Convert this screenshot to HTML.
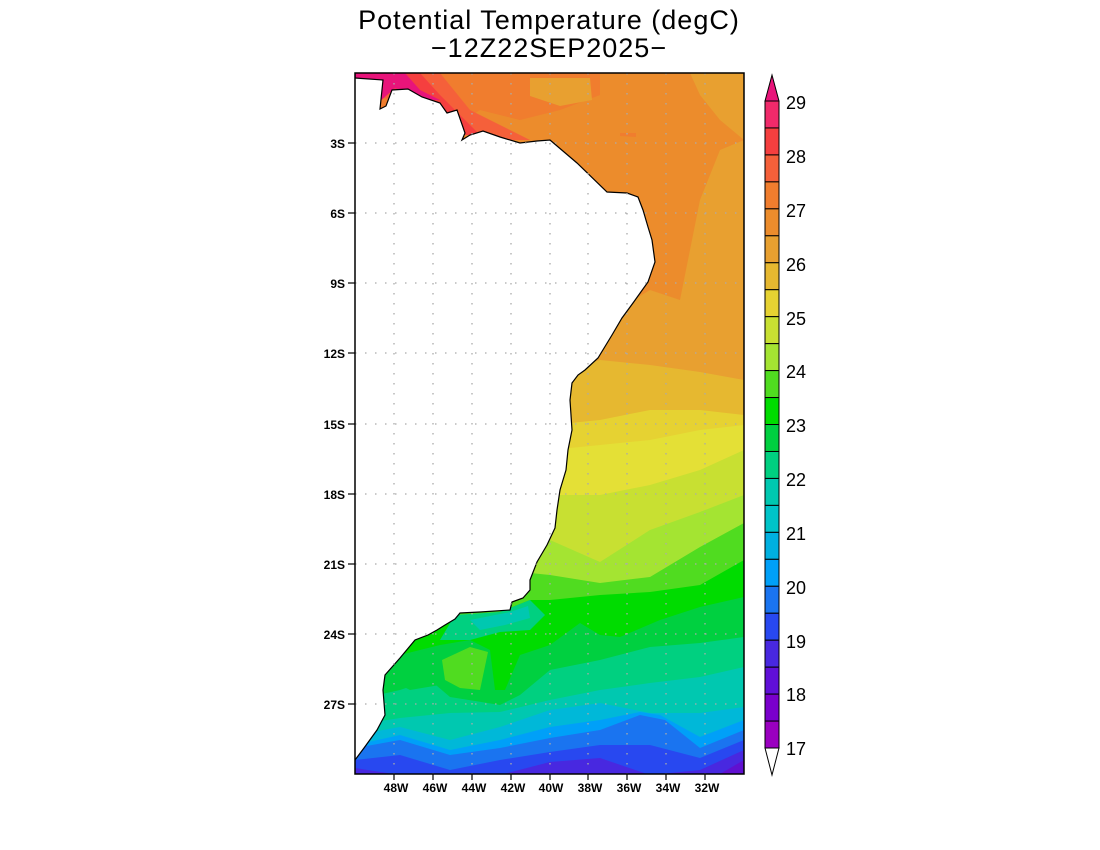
<!DOCTYPE html>
<html><head><meta charset="utf-8"><style>
html,body{margin:0;padding:0;background:#fff;}
svg{display:block;}
text{font-family:"Liberation Sans",sans-serif;}
</style></head><body>
<svg width="1100" height="850" viewBox="0 0 1100 850" xmlns="http://www.w3.org/2000/svg">
<defs><clipPath id="c"><rect x="355" y="73" width="389" height="701"/></clipPath></defs>
<text x="549" y="29" text-anchor="middle" font-size="27" fill="#000" letter-spacing="1">Potential Temperature (degC)</text>
<text x="549" y="57" text-anchor="middle" font-size="27" fill="#000" letter-spacing="1">−12Z22SEP2025−</text>
<g clip-path="url(#c)">
<rect x="355" y="73" width="389" height="701" fill="#ec8c2c"/>
<polygon points="355,73 600,73 600,95 560,110 520,120 480,110 450,130 400,130 355,130" fill="#f07d2e"/>
<polygon points="530,78 590,78 592,100 560,106 530,96" fill="#e8a030"/>
<polygon points="690,73 744,73 744,140 720,120 700,95" fill="#e8a030"/>
<polygon points="355,73 440,73 470,110 500,125 530,140 480,140 440,120 400,100 355,95" fill="#f5603a"/>
<polygon points="355,73 420,73 440,95 465,120 480,135 460,135 420,105 390,90 355,90" fill="#f53f3f"/>
<polygon points="355,73 405,73 420,90 440,100 420,100 395,88 370,110 365,125 362,100 355,95" fill="#e8147a"/>
<polygon points="620,133 636,133 636,137 620,136" fill="#f07d2e"/>
<polygon points="355,400 400,400 450,400 500,380 550,350 600,320 650,290 680,300 700,200 720,150 744,140 744,774 355,774" fill="#e8a030"/>
<polygon points="355,410 400,410 450,410 500,400 550,375 600,360 650,365 700,372 744,380 744,774 355,774" fill="#e6b830"/>
<polygon points="355,430 400,430 450,430 500,430 550,425 600,420 650,410 700,410 744,415 744,774 355,774" fill="#e6d232"/>
<polygon points="355,450 400,450 450,450 500,450 550,450 600,445 650,440 700,430 744,425 744,774 355,774" fill="#e4e036"/>
<polygon points="355,500 400,500 450,500 500,500 550,495 600,495 650,485 700,470 744,450 744,774 355,774" fill="#c8e032"/>
<polygon points="355,540 400,540 450,540 500,540 550,540 600,562 650,530 700,512 744,495 744,774 355,774" fill="#a4e432"/>
<polygon points="355,570 400,570 450,570 500,570 550,575 600,583 650,577 700,547 744,523 744,774 355,774" fill="#50dc20"/>
<polygon points="355,620 400,620 450,620 500,612 530,600 550,600 600,595 650,592 700,585 744,560 744,774 355,774" fill="#00dc00"/>
<polygon points="355,665 400,655 440,645 470,640 490,650 495,690 505,690 520,655 550,645 580,623 600,635 620,637 660,620 700,607 744,597 744,774 355,774" fill="#00d040"/>
<polygon points="355,700 400,690 430,680 450,697 500,705 520,695 550,670 600,660 650,647 700,643 744,637 744,774 355,774" fill="#00d080"/>
<polygon points="455,615 500,612 530,600 545,615 530,630 500,632 470,640 440,640" fill="#00d080"/>
<polygon points="470,620 510,612 528,606 530,618 505,625 480,630" fill="#00c8b0"/>
<polygon points="390,680 410,660 440,650 470,645 485,655 470,670 440,685 410,690" fill="#00d040"/>
<polygon points="442,660 470,647 488,652 480,690 460,688 445,680" fill="#50dc20"/>
<polygon points="355,725 400,718 450,713 500,712 550,700 600,690 650,683 700,677 744,667 744,774 355,774" fill="#00c8b0"/>
<polygon points="355,735 400,727 450,740 500,727 550,710 600,703 650,713 700,713 744,707 744,774 355,774" fill="#00b8d8"/>
<polygon points="355,745 400,735 450,750 500,740 550,727 600,720 640,712 660,715 700,737 744,720 744,774 355,774" fill="#00a0f8"/>
<polygon points="355,748 400,740 450,755 500,748 550,738 600,730 640,715 665,720 700,748 744,730 744,774 355,774" fill="#1a74f0"/>
<polygon points="355,760 400,755 450,770 500,760 550,752 600,745 650,745 700,758 744,740 744,774 355,774" fill="#2848f0"/>
<polygon points="355,768 400,775 450,775 500,775 550,762 600,758 650,775 700,770 744,750 744,774 355,774" fill="#4828e0"/>
<polygon points="720,774 744,760 744,774" fill="#6010d0"/>
<polygon points="355,73 355,78 383,80 380,109 386,106 392,90 408,89 422,97 440,103 447,113 457,110 465,133 462,140 470,135 483,131 500,137 520,143 537,141 550,140 577,163 607,192 627,193 638,197 643,210 648,227 652,240 655,262 648,282 633,303 622,318 612,335 598,358 585,370 578,375 572,383 570,400 572,430 568,450 566,470 560,490 557,510 555,528 547,545 537,562 530,580 530,590 523,598 512,602 510,610 480,612 460,613 455,619 445,625 437,630 428,635 415,640 400,658 385,675 383,690 385,715 377,730 364,748 355,760 300,760 300,73" fill="#fff" stroke="#000" stroke-width="1.2"/>
<g stroke="#aaa" stroke-width="1.3" stroke-dasharray="1.5,8.5">
<line x1="394" y1="73" x2="394" y2="774"/><line x1="433" y1="73" x2="433" y2="774"/><line x1="472" y1="73" x2="472" y2="774"/><line x1="511" y1="73" x2="511" y2="774"/><line x1="550" y1="73" x2="550" y2="774"/><line x1="588" y1="73" x2="588" y2="774"/><line x1="627" y1="73" x2="627" y2="774"/><line x1="666" y1="73" x2="666" y2="774"/><line x1="705" y1="73" x2="705" y2="774"/>
<line x1="355" y1="143" x2="744" y2="143"/><line x1="355" y1="213" x2="744" y2="213"/><line x1="355" y1="283" x2="744" y2="283"/><line x1="355" y1="353" x2="744" y2="353"/><line x1="355" y1="424" x2="744" y2="424"/><line x1="355" y1="494" x2="744" y2="494"/><line x1="355" y1="564" x2="744" y2="564"/><line x1="355" y1="634" x2="744" y2="634"/><line x1="355" y1="704" x2="744" y2="704"/>
</g>
</g>
<rect x="355" y="73" width="389" height="701" fill="none" stroke="#000" stroke-width="1.5"/>
<g stroke="#000" stroke-width="1.2">
<line x1="348" y1="143" x2="355" y2="143"/><line x1="348" y1="213" x2="355" y2="213"/><line x1="348" y1="283" x2="355" y2="283"/><line x1="348" y1="353" x2="355" y2="353"/><line x1="348" y1="424" x2="355" y2="424"/><line x1="348" y1="494" x2="355" y2="494"/><line x1="348" y1="564" x2="355" y2="564"/><line x1="348" y1="634" x2="355" y2="634"/><line x1="348" y1="704" x2="355" y2="704"/>
<line x1="394" y1="774" x2="394" y2="780"/><line x1="433" y1="774" x2="433" y2="780"/><line x1="472" y1="774" x2="472" y2="780"/><line x1="511" y1="774" x2="511" y2="780"/><line x1="550" y1="774" x2="550" y2="780"/><line x1="588" y1="774" x2="588" y2="780"/><line x1="627" y1="774" x2="627" y2="780"/><line x1="666" y1="774" x2="666" y2="780"/><line x1="705" y1="774" x2="705" y2="780"/>
</g>
<g font-size="12" font-weight="bold" text-anchor="end">
<text x="345" y="148">3S</text><text x="345" y="218">6S</text><text x="345" y="288">9S</text><text x="345" y="358">12S</text><text x="345" y="429">15S</text><text x="345" y="499">18S</text><text x="345" y="569">21S</text><text x="345" y="639">24S</text><text x="345" y="709">27S</text>
</g>
<g font-size="12" font-weight="bold" text-anchor="middle">
<text x="396" y="792">48W</text><text x="435" y="792">46W</text><text x="474" y="792">44W</text><text x="513" y="792">42W</text><text x="551" y="792">40W</text><text x="590" y="792">38W</text><text x="629" y="792">36W</text><text x="668" y="792">34W</text><text x="707" y="792">32W</text>
</g>
<g stroke="#000" stroke-width="1">
<polygon points="765,101 779,101 772,75" fill="#e8147a"/>
<rect x="765" y="101.0" width="14" height="26.96" fill="#f02a6a"/>
<rect x="765" y="127.96" width="14" height="26.96" fill="#f53f3f"/>
<rect x="765" y="154.92" width="14" height="26.96" fill="#f5603a"/>
<rect x="765" y="181.88" width="14" height="26.96" fill="#f07d2e"/>
<rect x="765" y="208.84" width="14" height="26.96" fill="#ec8c2c"/>
<rect x="765" y="235.8" width="14" height="26.96" fill="#e8a030"/>
<rect x="765" y="262.76" width="14" height="26.96" fill="#e6b830"/>
<rect x="765" y="289.72" width="14" height="26.96" fill="#e6d232"/>
<rect x="765" y="316.68" width="14" height="26.96" fill="#c8e032"/>
<rect x="765" y="343.64" width="14" height="26.96" fill="#a4e432"/>
<rect x="765" y="370.6" width="14" height="26.96" fill="#50dc20"/>
<rect x="765" y="397.56" width="14" height="26.96" fill="#00dc00"/>
<rect x="765" y="424.52" width="14" height="26.96" fill="#00d040"/>
<rect x="765" y="451.48" width="14" height="26.96" fill="#00d080"/>
<rect x="765" y="478.44" width="14" height="26.96" fill="#00c8b0"/>
<rect x="765" y="505.4" width="14" height="26.96" fill="#00c4c8"/>
<rect x="765" y="532.36" width="14" height="26.96" fill="#00b0e0"/>
<rect x="765" y="559.32" width="14" height="26.96" fill="#00a0f8"/>
<rect x="765" y="586.28" width="14" height="26.96" fill="#1a74f0"/>
<rect x="765" y="613.24" width="14" height="26.96" fill="#2848f0"/>
<rect x="765" y="640.2" width="14" height="26.96" fill="#4828e0"/>
<rect x="765" y="667.16" width="14" height="26.96" fill="#6010d8"/>
<rect x="765" y="694.12" width="14" height="26.96" fill="#7a00cc"/>
<rect x="765" y="721.08" width="14" height="26.92" fill="#9a00c0"/>
<polygon points="765,748 779,748 772,775" fill="#fff"/>
</g>
<g font-size="18" fill="#000">
<text x="786" y="109">29</text><text x="786" y="163">28</text><text x="786" y="217">27</text><text x="786" y="271">26</text><text x="786" y="325">25</text><text x="786" y="378">24</text><text x="786" y="432">23</text><text x="786" y="486">22</text><text x="786" y="540">21</text><text x="786" y="594">20</text><text x="786" y="648">19</text><text x="786" y="701">18</text><text x="786" y="755">17</text>
</g>
</svg>
</body></html>
